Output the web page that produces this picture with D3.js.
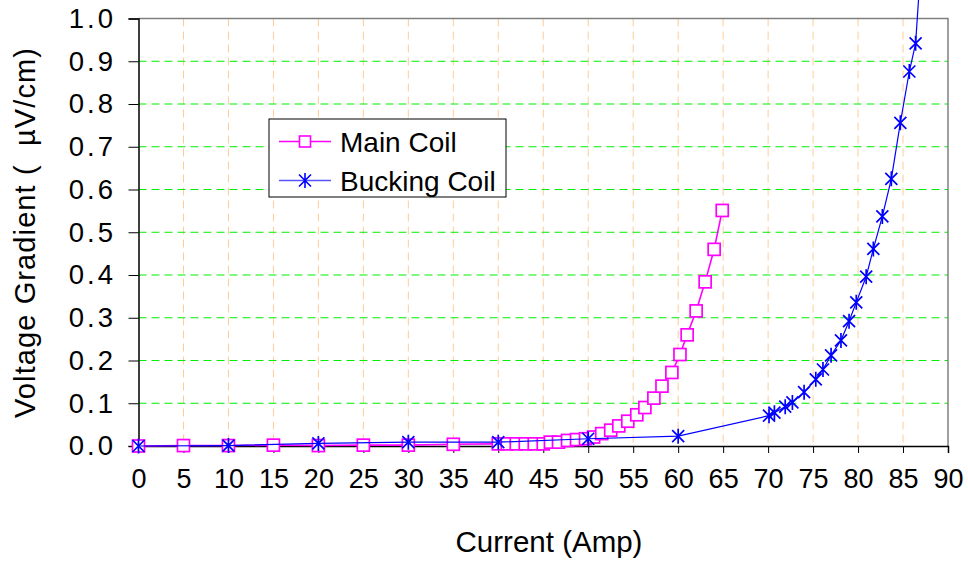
<!DOCTYPE html>
<html>
<head>
<meta charset="utf-8">
<style>
    body { margin: 0; background: #fff; }
    svg text { font-family: Arial, "Liberation Sans", sans-serif; fill: #000; }
    .axis path, .axis line { stroke: #000; }
</style>
<script src="https://cdn.jsdelivr.net/npm/d3@7"></script>
</head>
<body>
<svg width="968" height="561"></svg>
<script>
    // Main Coil (magenta squares)
    var mainX = [0, 5, 10, 15, 20, 25, 30, 35, 40, 41, 42, 43, 44, 45, 45.8, 46.7, 47.7, 48.7, 49.7,
                 50.6, 51.5, 52.5, 53.4, 54.4, 55.4, 56.3, 57.3, 58.2, 59.3, 60.2, 61.0, 62.0, 63.0, 64.0, 64.9];
    var mainY = [0, 0.001, 0.001, 0.002, 0.001, 0.002, 0.002, 0.004, 0.005, 0.005, 0.005, 0.005, 0.005, 0.005,
                 0.009, 0.009, 0.013, 0.015, 0.017, 0.021, 0.029, 0.037, 0.047, 0.058, 0.073, 0.090, 0.112,
                 0.140, 0.172, 0.214, 0.260, 0.316, 0.384, 0.460, 0.551];
    // Bucking Coil (blue asterisks); last point lies above the plot top
    var buckX = [0, 10, 20, 30, 40, 50, 60, 70.1, 70.7, 71.9, 72.7, 74.0, 75.3, 76.1, 77.0, 78.1, 79.0,
                 79.8, 80.9, 81.7, 82.7, 83.7, 84.7, 85.7, 86.4, 86.9];
    var buckY = [0, 0.001, 0.006, 0.009, 0.009, 0.017, 0.023, 0.071, 0.078, 0.092, 0.102, 0.126, 0.156,
                 0.179, 0.212, 0.247, 0.292, 0.336, 0.396, 0.461, 0.537, 0.625, 0.756, 0.876, 0.942, 1.1];
    var xTicks = d3.range(0, 91, 5);
    var yTicks = d3.range(0, 11).map(function (i) { return i / 10; });
    var names = ["Main Coil", "Bucking Coil"];

    var svg = d3.select("svg");
    var pLeft = 138.5, pRight = 948, pTop = 18.5, pBottom = 446;

    var x = d3.scaleLinear().domain([0, 90]).range([pLeft, pRight]);
    var y = d3.scaleLinear().domain([0, 1]).range([pBottom, pTop]);

    // grid
    svg.append("g").selectAll("line")
        .data(xTicks.filter(function (d) { return d > 0 && d < 90; }))
        .enter().append("line")
        .attr("x1", function (d) { return x(d); }).attr("x2", function (d) { return x(d); })
        .attr("y1", pTop).attr("y2", pBottom)
        .attr("stroke", "#ffcc99").attr("stroke-width", 1).attr("stroke-dasharray", "8,5");

    svg.append("g").selectAll("line")
        .data(yTicks.filter(function (d) { return d > 0 && d < 1; }))
        .enter().append("line")
        .attr("x1", pLeft).attr("x2", pRight)
        .attr("y1", function (d) { return y(d); }).attr("y2", function (d) { return y(d); })
        .attr("stroke", "#00ee00").attr("stroke-width", 1).attr("stroke-dasharray", "8,5");

    // plot border (top/right)
    svg.append("path")
        .attr("d", "M" + pLeft + "," + pTop + "H" + pRight + "V" + pBottom)
        .attr("fill", "none").attr("stroke", "#808080").attr("stroke-width", 1.5);

    // axes
    var xAxis = svg.append("g").attr("class", "axis")
        .attr("transform", "translate(0," + pBottom + ")")
        .call(d3.axisBottom(x).tickValues(xTicks).tickSize(7).tickPadding(20)
            .tickFormat(d3.format("d")));
    xAxis.selectAll("text").attr("font-size", 27).attr("dy", "0.55em");
    xAxis.selectAll(".tick line").attr("stroke", "#444");

    var yAxis = svg.append("g").attr("class", "axis")
        .attr("transform", "translate(" + pLeft + ",0)")
        .call(d3.axisLeft(y).tickValues(yTicks).tickSize(10).tickPadding(12.5)
            .tickFormat(d3.format(".1f")));
    yAxis.selectAll("text").attr("font-size", 27.5).attr("letter-spacing", "3px");
    yAxis.selectAll(".tick line").attr("stroke", "#777");
    svg.selectAll(".axis .domain").attr("stroke-width", 1.5);

    // lines and markers
    var line = d3.line()
        .x(function (d) { return x(d[0]); })
        .y(function (d) { return y(d[1]); });

    var mainData = mainX.map(function (v, i) { return [v, mainY[i]]; });
    var buckData = buckX.map(function (v, i) { return [v, buckY[i]]; });

    svg.append("path").datum(mainData).attr("d", line)
        .attr("fill", "none").attr("stroke", "#ff00ff").attr("stroke-width", 1.6);

    svg.append("g").selectAll("rect").data(mainData).enter().append("rect")
        .attr("x", function (d) { return x(d[0]) - 6; })
        .attr("y", function (d) { return y(d[1]) - 6; })
        .attr("width", 12).attr("height", 12)
        .attr("fill", "#fff").attr("stroke", "#ff00ff").attr("stroke-width", 1.7);

    svg.append("path").datum(buckData).attr("d", line)
        .attr("fill", "none").attr("stroke", "#0000ff").attr("stroke-width", 1.2);

    function star(cx, cy, r) {
        return "M" + (cx - r) + "," + (cy - r) + "L" + (cx + r) + "," + (cy + r) +
            "M" + (cx - r) + "," + (cy + r) + "L" + (cx + r) + "," + (cy - r) +
            "M" + cx + "," + (cy - r * 1.25) + "L" + cx + "," + (cy + r * 1.25);
    }

    svg.append("g").selectAll("path").data(buckData.filter(function (d) { return d[1] <= 1; }))
        .enter().append("path")
        .attr("d", function (d) { return star(x(d[0]), y(d[1]), 6); })
        .attr("stroke", "#0000ff").attr("stroke-width", 1.7).attr("fill", "none");

    // axis titles
    svg.append("text").attr("x", 549).attr("y", 552)
        .attr("text-anchor", "middle").attr("font-size", 29.5)
        .text("Current (Amp)");

    svg.append("text").attr("transform", "translate(35,233) rotate(-90)")
        .attr("text-anchor", "middle").attr("font-size", 29)
        .attr("textLength", 370).attr("lengthAdjust", "spacing")
        .attr("xml:space", "preserve")
        .text("Voltage Gradient (  \u00b5V/cm)");

    // legend
    var lg = svg.append("g").attr("transform", "translate(269,119)");
    lg.append("rect").attr("width", 237).attr("height", 78)
        .attr("fill", "#fff").attr("stroke", "#000").attr("stroke-width", 1);

    var rowY = [22.5, 61.5];
    lg.selectAll("line.lg").data(names).enter().append("line")
        .attr("x1", 10).attr("x2", 62)
        .attr("y1", function (d, i) { return rowY[i]; })
        .attr("y2", function (d, i) { return rowY[i]; })
        .attr("stroke", function (d, i) { return i === 0 ? "#ff00ff" : "#5555ff"; })
        .attr("stroke-width", 1.6);
    lg.append("rect").attr("x", 30.5).attr("y", rowY[0] - 5.5).attr("width", 11).attr("height", 11)
        .attr("fill", "#fff").attr("stroke", "#ff00ff").attr("stroke-width", 1.6);
    lg.append("path").attr("d", star(36, rowY[1], 6))
        .attr("stroke", "#0000ff").attr("stroke-width", 1.6).attr("fill", "none");
    lg.selectAll("text").data(names).enter().append("text")
        .attr("x", 71).attr("y", function (d, i) { return rowY[i]; })
        .attr("dy", "0.36em").attr("font-size", 28)
        .text(function (d) { return d; });
</script>
</body>
</html>
